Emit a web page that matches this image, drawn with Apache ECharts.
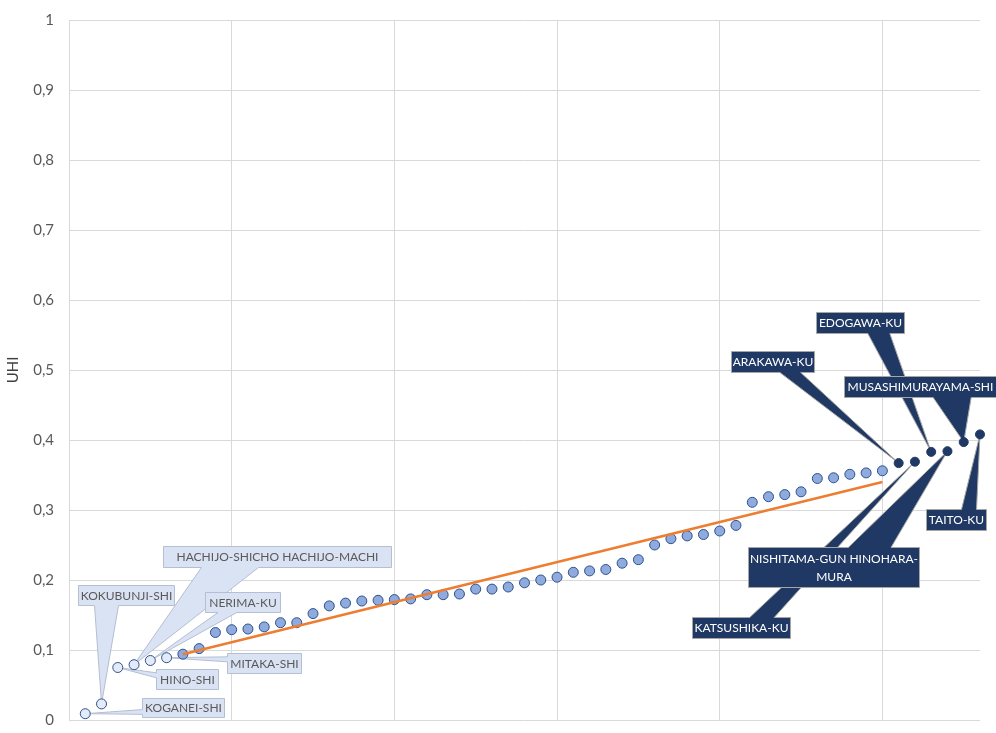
<!DOCTYPE html>
<html><head><meta charset="utf-8">
<script src="https://cdn.jsdelivr.net/npm/echarts@6/dist/echarts.min.js"></script>
<style>html,body{margin:0;padding:0;background:#fff}#c{width:996px;height:733px}</style>
</head><body><div id="c"></div>
<script>
// UHI values, ranked (x = 1..56)
const uhi = [0.009,0.023,0.075,0.079,0.085,0.089,0.094,0.102,0.125,0.129,
             0.130,0.133,0.139,0.139,0.152,0.163,0.167,0.170,0.171,0.172,
             0.173,0.179,0.179,0.180,0.187,0.187,0.190,0.196,0.200,0.204,
             0.211,0.213,0.215,0.224,0.229,0.250,0.259,0.263,0.265,0.270,
             0.278,0.311,0.319,0.322,0.326,0.345,0.346,0.351,0.353,0.356,
             0.367,0.369,0.383,0.384,0.397,0.408];
// labelled points (rank -> name)
const lowRanks  = [1,2,3,4,5,6];
const lowNames  = ['KOGANEI-SHI','KOKUBUNJI-SHI','HINO-SHI','HACHIJO-SHICHO HACHIJO-MACHI','NERIMA-KU','MITAKA-SHI'];
const highRanks = [51,52,53,54,55,56];
const highNames = ['ARAKAWA-KU','KATSUSHIKA-KU','EDOGAWA-KU','NISHITAMA-GUN HINOHARA-\nMURA','MUSASHIMURAYAMA-SHI','TAITO-KU'];
// trend line end points
const trendX = [7, 50];
const trendY = [0.094, 0.340];
// axis ticks
const yTicks = [0,0.1,0.2,0.3,0.4,0.5,0.6,0.7,0.8,0.9,1];
const xGrid = [0,10,20,30,40,50];

// callout box layout in px relative to its point: [dx, dy, w, h]
const calloutLayout = [
  [57,-16,82,19],[-24,-119,96,20],[38,1,62,20],[29,-119,228,21],[55,-69,75,20],[60,-5,74,20],
  [-168,-112,83,21],[-223,155,98,21],[-115,-140,88,21],[-199,96,171,40],[-120,-66,152,21],[-54,75,60,21]
];

const pt = r => [r, uhi[r-1]];
const midData = [];
for (let r = 1; r <= uhi.length; r++) if (!lowRanks.includes(r) && !highRanks.includes(r)) midData.push(pt(r));
const lowData = lowRanks.map(pt);
const highData = highRanks.map(pt);
const calloutNames = lowNames.concat(highNames);
const calloutData = lowRanks.concat(highRanks).map((r,k) => [r, uhi[r-1], k]);

function calloutPoints(L,T,W,H,tx,ty){
  const cx=L+W/2, cy=T+H/2, dx=tx-cx, dy=ty-cy, dq=dx*H/W, R=L+W, B=T+H;
  const x1=L+W*(dx>0?7:2)/12, x2=L+W*(dx>0?10:5)/12;
  const y1=T+H*(dy>0?7:2)/12, y2=T+H*(dy>0?10:5)/12;
  const v = Math.abs(dy) > Math.abs(dq);
  const p=[[L,T]];
  if (v && dy<0) p.push([x1,T],[tx,ty],[x2,T]);
  p.push([R,T]);
  if (!v && dx>0) p.push([R,y1],[tx,ty],[R,y2]);
  p.push([R,B]);
  if (v && dy>0) p.push([x2,B],[tx,ty],[x1,B]);
  p.push([L,B]);
  if (!v && dx<0) p.push([L,y2],[tx,ty],[L,y1]);
  return p;
}

const FONT = 'Lato, "Open Sans", sans-serif';
const chart = echarts.init(document.getElementById('c'), null, {renderer:'canvas'});
chart.setOption({
  animation:false,
  backgroundColor:'#fff',
  grid:{left:69,right:16,top:20,bottom:13,containLabel:false,outerBoundsMode:'none'},
  xAxis:{type:'value',min:0,max:56,interval:10,
    axisLine:{show:false},axisTick:{show:false},axisLabel:{show:false},splitLine:{show:false}},
  yAxis:{type:'value',min:0,max:1,interval:0.1,
    name:'UHI',nameLocation:'middle',nameGap:48,
    nameTextStyle:{color:'#404040',fontSize:15,fontFamily:FONT},
    axisLine:{show:false},axisTick:{show:false},
    axisLabel:{color:'#595959',fontSize:15,fontFamily:FONT,margin:15,
      formatter:v=>String(+v.toFixed(1)).replace('.',',')},
    splitLine:{lineStyle:{color:'#d9d9d9',width:1}}},
  series:[
    {type:'scatter',data:[],z:1,silent:true,
      markLine:{silent:true,symbol:'none',z:1,label:{show:false},
        lineStyle:{color:'#d9d9d9',width:1,type:'solid'},
        data:xGrid.map(x=>({xAxis:x}))}},
    {type:'custom',coordinateSystem:'cartesian2d',z:2,clip:false,silent:true,
      data:calloutData,
      renderItem:(params,api)=>{
        const k=api.value(2);
        const p=api.coord([api.value(0),api.value(1)]);
        const lay=calloutLayout[k];
        const L=Math.round(p[0]+lay[0])+0.5, T=Math.round(p[1]+lay[1])+0.5, W=lay[2], H=lay[3];
        const dark=k>=6;
        return {type:'group',children:[
          {type:'polygon',shape:{points:calloutPoints(L,T,W,H,p[0],p[1])},
            style:{fill:dark?'#203864':'#dae3f3',stroke:dark?'#a6a6a6':'#b4bfd3',lineWidth:1}},
          {type:'text',style:{text:calloutNames[k],x:L+W/2,y:T+H/2+0.5,align:'center',verticalAlign:'middle',
            fill:dark?'#ffffff':'#595959',fontSize:12,fontFamily:FONT,lineHeight:18}}
        ]};
      }},
    {type:'scatter',data:midData,z:3,symbolSize:10,
      itemStyle:{color:'#8faadc',borderColor:'#2f528f',borderWidth:1,opacity:1}},
    {type:'scatter',data:lowData,z:3,symbolSize:10,
      itemStyle:{color:'#e4eaf6',borderColor:'#2f528f',borderWidth:1,opacity:1}},
    {type:'scatter',data:highData,z:3,symbolSize:9,
      itemStyle:{color:'#203864',borderColor:'#203864',borderWidth:1,opacity:1}},
    {type:'line',data:trendX.map((x,i)=>[x,trendY[i]]),z:4,symbol:'none',silent:true,
      lineStyle:{color:'#ed7d31',width:2.5}}
  ]
});
</script></body></html>
